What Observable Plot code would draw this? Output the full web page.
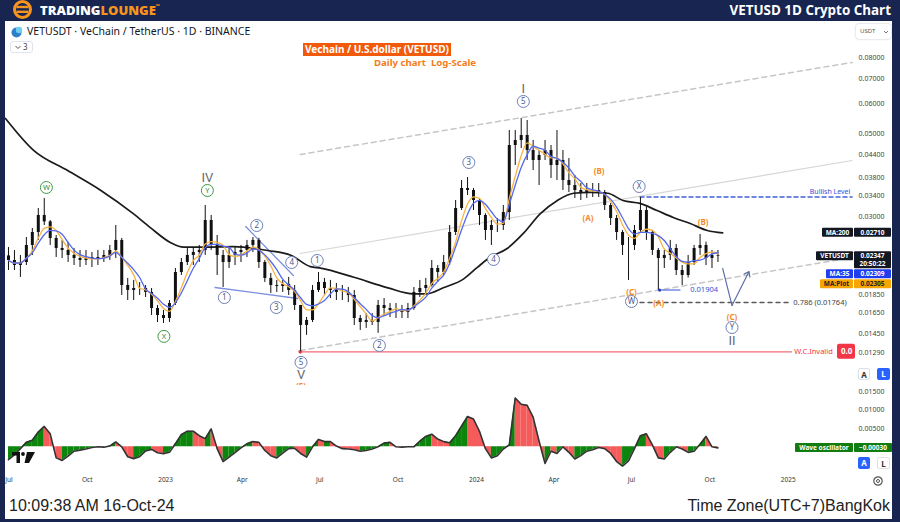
<!DOCTYPE html>
<html>
<head>
<meta charset="utf-8">
<script src="https://cdn.jsdelivr.net/npm/d3@7"></script>
<script src="https://cdn.jsdelivr.net/npm/@observablehq/plot@0.6"></script>
<style>
  html, body { margin:0; padding:0; }
  body { width:900px; height:522px; overflow:hidden; background:#172550; font-family:"Noto Sans", sans-serif; }
  #wrap { position:relative; width:900px; height:522px; }
  .a { position:absolute; white-space:nowrap; }
  .btn { position:absolute; width:12px; height:12px; box-sizing:border-box; border-radius:2px; font:700 8px/12px "Noto Sans",sans-serif; text-align:center; }
</style>
</head>
<body>
<div id="wrap">
  <div class="a" style="left:5px;top:21px;width:887px;height:498px;background:#fff"></div>
  <div class="a" id="mainHolder" style="left:0;top:21px;width:900px;height:364px"></div>
  <div class="a" id="oscHolder" style="left:0;top:385px;width:900px;height:105px"></div>

  <!-- frame -->
  <div class="a" style="left:0;top:0;width:5px;height:522px;background:#172550"></div>
  <div class="a" style="left:892px;top:0;width:8px;height:522px;background:#172550"></div>
  <div class="a" style="left:0;top:519px;width:900px;height:3px;background:#172550"></div>
  <div class="a" style="left:0;top:0;width:900px;height:21px;background:#172550"></div>

  <!-- header -->
  <svg class="a" style="left:10px;top:0" width="26" height="21">
    <circle cx="12.5" cy="9.5" r="8" fill="none" stroke="#f7941d" stroke-width="3"/>
    <rect x="6.5" y="5.8" width="12" height="2.4" fill="#f7941d"/>
    <rect x="6.5" y="10.6" width="12" height="2.4" fill="#f7941d"/>
  </svg>
  <div class="a" style="left:40px;top:0;font:800 13px/20px 'Open Sans',sans-serif;color:#fff;letter-spacing:0px">TRADING<span style="color:#f7941d">LOUNGE</span><span style="font-size:5px;vertical-align:top;line-height:12px;color:#f7941d">™</span></div>
  <div class="a" style="right:9px;top:0;font:700 13.4px/20px 'Open Sans',sans-serif;color:#fff">VETUSD 1D Crypto Chart</div>

  <!-- symbol line -->
  <svg class="a" style="left:10px;top:26px" width="15" height="12">
    <circle cx="6.5" cy="6.5" r="5" fill="#2f7fc8"/>
    <circle cx="9" cy="4" r="3.2" fill="#6fd0ee"/>
  </svg>
  <div class="a" style="left:27px;top:24px;font:400 10.5px/14px 'Noto Sans',sans-serif;color:#131722">VETUSDT · VeChain / TetherUS · 1D · BINANCE</div>
  <div class="a" style="left:10px;top:41px;width:23px;height:12px;border:1px solid #e0e3eb;border-radius:3px;box-sizing:border-box;font:8px/10px 'Noto Sans',sans-serif;color:#444">
    <svg width="8" height="10" style="position:absolute;left:3px;top:0"><path d="M1.5,4 L4,6.5 L6.5,4" fill="none" stroke="#555" stroke-width="1"/></svg>
    <span style="position:absolute;left:12px;top:0">3</span>
  </div>

  <!-- title boxes -->
  <div class="a" style="left:303px;top:43px;height:13px;padding:0 2px;background:#f15a0b;color:#fff;font:700 10px/13px 'Noto Sans',sans-serif">Vechain / U.S.dollar (VETUSD)</div>
  <div class="a" style="right:424px;top:56px;color:#f47b20;font:700 9.6px/13px 'Noto Sans',sans-serif">Daily chart&nbsp;&nbsp;Log-Scale</div>

  <!-- USDT box -->
  <div class="a" style="left:856px;top:24px;width:35px;height:15px;background:#fff;border-radius:3px;box-shadow:0 0 2px rgba(0,0,0,.3);font:6px/15px 'Noto Sans',sans-serif;color:#555;padding-left:4px;box-sizing:border-box">USDT
    <svg width="6" height="6" style="position:absolute;left:27px;top:5px"><path d="M1,2 L3,4 L5,2" fill="none" stroke="#555" stroke-width="0.8"/></svg>
  </div>

  <!-- scale buttons -->
  <div class="btn" style="left:858px;top:368px;background:#fff;border:1px solid #dde0e6;color:#333">A</div>
  <div class="btn" style="left:877px;top:368px;background:#2962ff;color:#fff;width:13px">L</div>
  <div class="btn" style="left:858px;top:457px;background:#2962ff;color:#fff">A</div>
  <div class="btn" style="left:877px;top:457px;background:#fff;border:1px solid #dde0e6;color:#333;width:13px">L</div>

  <!-- TradingView mark -->
  <svg class="a" style="left:12px;top:452px" width="26" height="12">
    <path d="M0,0 H8 V11 H4.5 V3.5 H0 Z" fill="#111"/>
    <circle cx="11" cy="2" r="1.9" fill="#111"/>
    <path d="M15,0 H23 L17,11 H12.5 Z" fill="#111"/>
  </svg>
  <!-- gear -->
  <svg class="a" style="left:872px;top:475px" width="12" height="12">
    <circle cx="6" cy="6" r="4.2" fill="none" stroke="#555" stroke-width="1.2"/>
    <circle cx="6" cy="6" r="1.5" fill="none" stroke="#555" stroke-width="1"/>
  </svg>

  <!-- footer -->
  <div class="a" style="left:9px;top:496px;font:16px/20px 'Liberation Sans Narrow','Liberation Sans',sans-serif;color:#222">10:09:38 AM 16-Oct-24</div>
  <div class="a" style="right:10px;top:496px;font:16px/20px 'Liberation Sans Narrow','Liberation Sans',sans-serif;color:#222">Time Zone(UTC+7)BangKok</div>
</div>

<script>
// ---------------- DATA ----------------
const firstWeek = "2022-06-27";           // weekly candles, Monday starts
const firstOpen = 0.0235;
const high = [
0.02476,0.02431,0.02357,0.02633,0.02784,0.03150,0.03351,0.02925,0.02666,0.02586,
0.02554,0.02461,0.02431,0.02431,0.02401,0.02431,0.02431,0.02507,0.02836,0.02617,
0.02045,0.02020,0.01995,0.01958,0.01922,0.01731,0.01678,0.01785,0.02175,0.02313,
0.02461,0.02476,0.02507,0.03209,0.03017,0.02666,0.02431,0.02461,0.02476,0.02507,
0.02586,0.02633,0.02620,0.02285,0.02109,0.02020,0.02020,0.02058,0.01958,0.01731,
0.01607,0.01958,0.02122,0.02045,0.02020,0.01983,0.01958,0.01934,0.01899,0.01627,
0.01647,0.01647,0.01785,0.01807,0.01752,0.01752,0.01731,0.01752,0.01934,0.02020,
0.02045,0.02285,0.02215,0.02357,0.02836,0.03309,0.03744,0.03814,0.03564,0.03350,
0.03050,0.02925,0.02961,0.03209,0.05098,0.05098,0.05490,0.05422,0.04793,0.04506,
0.04793,0.04647,0.05098,0.04506,0.04288,0.03861,0.03675,0.03675,0.03675,0.03675,
0.03520,0.03250,0.03017,0.02750,0.02633,0.02836,0.03371,0.03180,0.02750,0.02461,
0.02431,0.02586,0.02520,0.02215,0.02357,0.02507,0.02683,0.02560,0.02431,0.02431];
const low = [
0.02148,0.02148,0.02058,0.02215,0.02357,0.02586,0.02836,0.02507,0.02328,0.02313,
0.02257,0.02215,0.02188,0.02215,0.02188,0.02215,0.02257,0.02285,0.02313,0.01841,
0.01785,0.01785,0.01841,0.01818,0.01627,0.01558,0.01549,0.01558,0.01731,0.02083,
0.02215,0.02215,0.02257,0.02357,0.02431,0.02083,0.01934,0.02175,0.02215,0.02257,
0.02328,0.02401,0.02175,0.01995,0.01864,0.01876,0.01876,0.01841,0.01678,0.01303,
0.01439,0.01558,0.01876,0.01841,0.01807,0.01785,0.01785,0.01763,0.01530,0.01484,
0.01502,0.01530,0.01457,0.01627,0.01607,0.01597,0.01597,0.01597,0.01680,0.01818,
0.01864,0.01940,0.01995,0.02083,0.02215,0.02666,0.03111,0.03413,0.03111,0.02836,
0.02586,0.02507,0.02716,0.02750,0.02925,0.04107,0.04562,0.04236,0.03982,0.03630,
0.04236,0.03791,0.03744,0.03520,0.03477,0.03351,0.03309,0.03351,0.03371,0.03371,
0.03111,0.02836,0.02586,0.02357,0.02020,0.02431,0.02700,0.02586,0.02357,0.01899,
0.02175,0.02285,0.02083,0.01958,0.02050,0.02215,0.02357,0.02215,0.02175,0.02257];
const close = [
0.02285,0.02215,0.02257,0.02507,0.02716,0.03017,0.02900,0.02617,0.02461,0.02431,
0.02357,0.02313,0.02285,0.02313,0.02328,0.02313,0.02357,0.02431,0.02586,0.01958,
0.01899,0.01922,0.01922,0.01876,0.01699,0.01627,0.01597,0.01752,0.02122,0.02257,
0.02357,0.02401,0.02431,0.02925,0.02507,0.02357,0.02257,0.02357,0.02401,0.02431,
0.02507,0.02586,0.02257,0.02045,0.01958,0.01946,0.01971,0.01899,0.01731,0.01530,
0.01578,0.01899,0.01995,0.01922,0.01899,0.01876,0.01876,0.01841,0.01597,0.01558,
0.01578,0.01558,0.01731,0.01699,0.01678,0.01678,0.01657,0.01699,0.01876,0.01922,
0.01958,0.02175,0.02122,0.02257,0.02716,0.03150,0.03564,0.03520,0.03309,0.03017,
0.02750,0.02836,0.02836,0.03073,0.04647,0.04793,0.04943,0.04506,0.04236,0.04369,
0.04506,0.04107,0.04236,0.03744,0.03630,0.03520,0.03477,0.03520,0.03520,0.03477,
0.03209,0.02961,0.02716,0.02507,0.02507,0.02750,0.03111,0.02716,0.02431,0.02313,
0.02357,0.02461,0.02148,0.02083,0.02257,0.02461,0.02507,0.02313,0.02357,0.02347];
const waveOsc = [
-0.0035,-0.0022,-0.0005,0.0012,0.0018,0.0040,0.0055,0.0035,-0.0030,-0.0037,
-0.0025,-0.0012,-0.0009,-0.0006,-0.0002,0.0000,-0.0001,0.0002,0.0013,0.0000,
-0.0027,-0.0032,-0.0027,-0.0011,-0.0007,-0.0016,-0.0019,-0.0015,0.0008,0.0033,
0.0042,0.0042,0.0030,0.0022,0.0048,-0.0005,-0.0040,-0.0028,-0.0016,-0.0003,
0.0008,0.0014,0.0012,-0.0010,-0.0024,-0.0030,-0.0017,-0.0005,-0.0004,-0.0018,
-0.0028,0.0000,0.0020,0.0014,0.0014,0.0002,-0.0005,-0.0006,-0.0008,-0.0012,
-0.0010,-0.0006,0.0000,0.0010,0.0012,0.0000,-0.0001,0.0000,0.0000,0.0015,
0.0028,0.0034,0.0021,0.0014,0.0011,0.0030,0.0056,0.0082,0.0075,0.0042,
-0.0005,-0.0030,-0.0024,-0.0006,0.0005,0.0132,0.0115,0.0112,0.0080,0.0015,
-0.0045,-0.0012,-0.0018,0.0000,-0.0015,-0.0033,-0.0024,-0.0012,-0.0008,-0.0002,
-0.0005,-0.0018,-0.0040,-0.0052,-0.0038,-0.0005,0.0030,0.0035,0.0005,-0.0030,
-0.0033,-0.0015,0.0000,-0.0006,-0.0015,-0.0012,0.0007,0.0028,0.0000,-0.0003];

const ma200Dates = ["2022-06-27","2022-07-30","2022-09-08","2022-10-17","2022-11-24","2022-12-14","2023-01-07","2023-01-22","2023-02-11","2023-03-22","2023-05-01","2023-05-28","2023-06-20","2023-07-02","2023-08-10","2023-09-19","2023-10-19","2023-11-04","2023-11-23","2023-12-17","2024-01-02","2024-01-17","2024-02-06","2024-02-25","2024-03-16","2024-04-05","2024-04-24","2024-05-14","2024-06-03","2024-06-21","2024-07-11","2024-07-31","2024-08-19","2024-09-08","2024-09-28","2024-10-16"];
const ma200Values = [0.0549,0.0451,0.0398,0.0352,0.0305,0.0280,0.0255,0.0248,0.0248,0.0249,0.0243,0.0236,0.0220,0.0218,0.0206,0.0193,0.0186,0.0186,0.0193,0.0204,0.0219,0.0233,0.0246,0.0270,0.0305,0.0331,0.0346,0.0348,0.0346,0.0331,0.0325,0.0311,0.0298,0.0287,0.0275,0.0271];

const priceTicks = [0.08,0.07,0.06,0.05,0.044,0.038,0.034,0.03,0.0185,0.0165,0.0145,0.0129];
const oscTicks = [0.015,0.01,0.005];
const timeTicks = ["2022-07-01","2022-10-01","2023-01-01","2023-04-01","2023-07-01","2023-10-01","2024-01-01","2024-04-01","2024-07-01","2024-10-01","2025-01-01"];
const timeLabels = ["Jul","Oct","2023","Apr","Jul","Oct","2024","Apr","Jul","Oct","2025"];
const xDomainDates = ["2022-06-27","2025-03-21"];

// channel and drawn lines
const chanDates = ["2023-06-08","2025-03-17"];
const chanUpper = [0.04396,0.0776];
const chanMid = [0.02386,0.04236];
const chanLower = [0.01311,0.02328];
const triLowDates = ["2023-02-28","2023-06-05"], triLowPrices = [0.01934,0.01807];
const triHighDates = ["2023-04-05","2023-05-31"], triHighPrices = [0.02818,0.02083];
const bullishLevel = 0.0338, bullishDates = ["2024-07-11","2025-03-17"];
const fibLevel = 0.01764, fibDates = ["2024-07-11","2025-01-01"];
const invalidLevel = 0.0130, invalidDates = ["2023-06-08","2025-01-05"];
const lowMark = 0.01904, lowMarkDates = ["2024-08-03","2024-08-27"];
const projDates = ["2024-10-16","2024-10-27","2024-11-16"], projPrices = [0.02175,0.01731,0.02135];

// wave labels
const blueText = ["2","4","1","3","5","1","2","3","4","5","X","W","Y"];
const blueDates = ["2023-04-18","2023-05-29","2023-03-11","2023-05-11","2023-06-09","2023-06-28","2023-09-09","2023-12-23","2024-01-21","2024-02-25","2024-07-10","2024-07-01","2024-10-27"];
const bluePrices = [0.02836,0.02257,0.01818,0.01709,0.01218,0.02285,0.01352,0.04184,0.02299,0.06098,0.03608,0.01774,0.01511];
const greenText = ["W","Y","X"];
const greenDates = ["2022-08-14","2023-02-19","2022-12-30"];
const greenPrices = [0.03586,0.0352,0.0143];
const romanText = ["IV","V","I","II"];
const romanDates = ["2023-02-19","2023-06-09","2024-02-25","2024-10-27"];
const romanPrices = [0.0381,0.01131,0.06607,0.01394];
const orangeText = ["(B)","(A)","(B)","(C)","(A)","(C)","(5)"];
const orangeDates = ["2024-05-24","2024-05-11","2024-09-23","2024-07-01","2024-08-02","2024-10-27","2023-06-09"];
const orangePrices = [0.03958,0.02961,0.02889,0.01880,0.01752,0.01607,0.01050];

// right-hand price tags
const tagNames = ["MA:200","VETUSDT","MA:35","MA:Plot"];
const tagValues = [0.02710,0.02347,0.02309,0.02305];
const tagSub = ["","20:50:22","",""];
const tagFill = ["#131722","#131722","#1f3df0","#f7a600"];
const tagInk = ["#fff","#fff","#fff","#222"];
const tagNameW = [31,37,27,33];
const oscTagName = "Wave oscillator", oscTagValue = -0.00030;

// ---------------- BUILD ----------------
const D = s => new Date(s + "T00:00:00Z");
const start = D(firstWeek);
const dates = close.map((_, i) => d3.utcHour.offset(start, i * 168 + 84));
const candles = close.map((c, i) => ({date: dates[i], open: i ? close[i-1] : firstOpen, high: high[i], low: low[i], close: c}));
const pts = (ds, ps) => ds.map((d, i) => ({d: D(d), p: ps[i]}));
const lvl = (ds, v) => ds.map(d => ({d: D(d), p: v}));
const xDomain = xDomainDates.map(D);
const ma200 = pts(ma200Dates, ma200Values);
const fmt5 = d3.format(".5f");
const font = "'Noto Sans', sans-serif";

const mainPlot = Plot.plot({
  width: 900, height: 364,
  marginLeft: 5, marginRight: 45, marginTop: 0, marginBottom: 0,
  style: {background: "transparent", fontFamily: font, overflow: "hidden"},
  x: {type: "utc", domain: xDomain, axis: null},
  y: {type: "log", domain: [0.010561, 0.09991]},
  marks: [
    Plot.line(pts(chanDates, chanUpper), {x: "d", y: "p", stroke: "#c6c6c6", strokeDasharray: "5,4"}),
    Plot.line(pts(chanDates, chanMid), {x: "d", y: "p", stroke: "#d6d6d6", strokeWidth: 1.2}),
    Plot.line(pts(chanDates, chanLower), {x: "d", y: "p", stroke: "#c6c6c6", strokeDasharray: "5,4"}),
    Plot.line(lvl(bullishDates, bullishLevel), {x: "d", y: "p", stroke: "#4262d8", strokeDasharray: "4,3"}),
    Plot.line(lvl(fibDates, fibLevel), {x: "d", y: "p", stroke: "#5a5a5a", strokeDasharray: "4,4"}),
    Plot.line(lvl(invalidDates, invalidLevel), {x: "d", y: "p", stroke: "#f26b78", strokeWidth: 1.1}),
    Plot.dot(lvl(invalidDates.slice(0, 1), invalidLevel), {x: "d", y: "p", r: 1.8, fill: "#e8343f"}),
    Plot.line(pts(triLowDates, triLowPrices), {x: "d", y: "p", stroke: "#7d8fe0", strokeWidth: 1.3}),
    Plot.line(pts(triHighDates, triHighPrices), {x: "d", y: "p", stroke: "#7d8fe0", strokeWidth: 1.3}),
    Plot.line(ma200, {x: "d", y: "p", stroke: "#1b1b1b", strokeWidth: 1.7, curve: "monotone-x"}),
    Plot.ruleX(candles, {x: "date", y1: "low", y2: "high", stroke: "#111", strokeWidth: 1}),
    Plot.ruleX(candles, {x: "date", y1: "open", y2: "close", stroke: "#111", strokeWidth: 3}),
    Plot.line(candles, Plot.windowY({k: 4, anchor: "end", reduce: "mean", strict: false}, {x: "date", y: "close", stroke: "#f6b443", strokeWidth: 1.3, curve: "monotone-x"})),
    Plot.line(candles, Plot.windowY({k: 5, anchor: "end", reduce: "mean", strict: false}, {x: "date", y: "close", stroke: "#5468f0", strokeWidth: 1.3, curve: "monotone-x"})),
    // projection
    Plot.line(pts(projDates.slice(0, 2), projPrices.slice(0, 2)), {x: "d", y: "p", stroke: "#5d6ea8", strokeWidth: 1.2}),
    Plot.arrow([0], {x1: () => D(projDates[1]), y1: () => projPrices[1], x2: () => D(projDates[2]), y2: () => projPrices[2], stroke: "#5d6ea8", strokeWidth: 1.2, headLength: 7, headAngle: 70}),
    // 0.01904 marker
    Plot.line(lvl(lowMarkDates, lowMark), {x: "d", y: "p", stroke: "#3350d8", strokeWidth: 1}),
    Plot.dot(lvl(lowMarkDates.slice(0, 1), lowMark), {x: "d", y: "p", r: 1.6, fill: "#2340c0"}),
    Plot.text([lowMark], {x: () => D("2024-09-08"), y: d => d, text: d => d.toFixed(5), textAnchor: "start", fill: "#3350d8", fontSize: 7.5}),
    // level texts
    Plot.text([bullishLevel], {x: () => D("2025-03-15"), y: d => d, text: () => "Bullish Level", textAnchor: "end", dy: -5, fill: "#3350d8", fontSize: 7}),
    Plot.text([fibLevel], {x: () => D("2025-01-07"), y: d => d, text: d => "0.786 (" + d.toFixed(5) + ")", textAnchor: "start", fill: "#444", fontSize: 7.5}),
    Plot.text([invalidLevel], {x: () => D("2025-01-08"), y: d => d, text: () => "W.C.Invalid", textAnchor: "start", fill: "#f23645", fontSize: 7.5}),
    // wave labels
    Plot.dot(blueText, {x: (d, i) => D(blueDates[i]), y: (d, i) => bluePrices[i], r: 6, fill: "white", stroke: "#6f7fb5", strokeWidth: 1}),
    Plot.text(blueText, {x: (d, i) => D(blueDates[i]), y: (d, i) => bluePrices[i], text: d => d, fill: "#4b5a8e", fontSize: 8}),
    Plot.dot(greenText, {x: (d, i) => D(greenDates[i]), y: (d, i) => greenPrices[i], r: 6, fill: "white", stroke: "#3f9a46", strokeWidth: 1}),
    Plot.text(greenText, {x: (d, i) => D(greenDates[i]), y: (d, i) => greenPrices[i], text: d => d, fill: "#2f8a37", fontSize: 7.5}),
    Plot.text(romanText, {x: (d, i) => D(romanDates[i]), y: (d, i) => romanPrices[i], text: d => d, fill: "#6a6a6a", fontSize: 13, fontFamily: "Roboto, sans-serif", fontWeight: 400}),
    Plot.text(orangeText, {x: (d, i) => D(orangeDates[i]), y: (d, i) => orangePrices[i], text: d => d, fill: "#f58a1f", fontSize: 8, fontWeight: 700}),
    Plot.axisY(priceTicks, {anchor: "right", tickSize: 0, tickPadding: 3, tickFormat: fmt5, fontSize: 7, color: "#444", label: null})
  ]
});
document.getElementById("mainHolder").appendChild(mainPlot);

// price tags (positioned with the plot's y scale, stacked like TradingView)
const ySc = mainPlot.scale("y");
const tg = d3.select(mainPlot).append("g").attr("font-family", font).attr("font-weight", 700).attr("font-size", "6.5px").attr("text-anchor", "middle");
let prevBottom = -Infinity;
tagNames.forEach((name, i) => {
  const h = tagSub[i] ? 17 : 9;
  const top = Math.max(ySc.apply(tagValues[i]) - 4.5, prevBottom + 1);
  prevBottom = top + h;
  tg.append("rect").attr("x", 853 - tagNameW[i]).attr("y", top).attr("width", tagNameW[i]).attr("height", 9).attr("rx", 1).attr("fill", tagFill[i]);
  tg.append("text").attr("x", 853 - tagNameW[i] / 2).attr("y", top + 6.8).attr("fill", tagInk[i]).text(name);
  tg.append("rect").attr("x", 854).attr("y", top).attr("width", 37).attr("height", h).attr("rx", 1).attr("fill", tagFill[i]);
  tg.append("text").attr("x", 872.5).attr("y", top + 6.8).attr("fill", tagInk[i]).text(fmt5(tagValues[i]));
  if (tagSub[i]) tg.append("text").attr("x", 872.5).attr("y", top + 14.8).attr("fill", tagInk[i]).text(tagSub[i]);
});
const yInv = ySc.apply(invalidLevel);
tg.append("rect").attr("x", 837).attr("y", yInv - 7.5).attr("width", 18).attr("height", 15).attr("rx", 2).attr("fill", "#f23645");
tg.append("text").attr("x", 841).attr("y", yInv + 3).attr("text-anchor", "start").attr("font-size", "8px").attr("fill", "#fff").text("0.0");

// ---------------- OSCILLATOR ----------------
const oscRows = waveOsc.map((v, i) => ({date: dates[i], v}));
const segs = [];
for (let i = 0; i < waveOsc.length - 1; i++) {
  const col = waveOsc[i + 1] >= waveOsc[i] ? "#0b850b" : "#f55b5b";
  segs.push({s: i, date: dates[i], v: waveOsc[i], col}, {s: i, date: dates[i + 1], v: waveOsc[i + 1], col});
}
const labelOf = new Map(timeTicks.map((t, i) => [+D(t), timeLabels[i]]));
const oscPlot = Plot.plot({
  width: 900, height: 105,
  marginLeft: 5, marginRight: 45, marginTop: 0, marginBottom: 18,
  style: {background: "transparent", fontFamily: font, overflow: "visible"},
  x: {type: "utc", domain: xDomain},
  y: {domain: [-0.00695, 0.01657]},
  color: {type: "identity"},
  marks: [
    Plot.areaY(segs, {x: "date", y1: 0, y2: "v", z: "s", fill: "col"}),
    Plot.line(oscRows, {x: "date", y: "v", stroke: "#333", strokeWidth: 1.6}),
    Plot.axisY(oscTicks, {anchor: "right", tickSize: 0, tickPadding: 3, tickFormat: fmt5, fontSize: 7, color: "#444", label: null}),
    Plot.axisX(timeTicks.map(D), {anchor: "bottom", tickSize: 0, tickPadding: 5, tickFormat: d => labelOf.get(+d), fontSize: 6.5, color: "#333", label: null})
  ]
});
document.getElementById("oscHolder").appendChild(oscPlot);
const oSc = oscPlot.scale("y");
const og = d3.select(oscPlot).append("g").attr("font-family", font).attr("font-weight", 700).attr("font-size", "6.5px").attr("text-anchor", "middle");
const oy = oSc.apply(oscTagValue) - 4.5;
og.append("rect").attr("x", 795).attr("y", oy).attr("width", 58).attr("height", 9).attr("rx", 1).attr("fill", "#117d11");
og.append("text").attr("x", 824).attr("y", oy + 6.8).attr("fill", "#fff").text(oscTagName);
og.append("rect").attr("x", 854).attr("y", oy).attr("width", 38).attr("height", 9).attr("rx", 1).attr("fill", "#117d11");
og.append("text").attr("x", 873).attr("y", oy + 6.8).attr("fill", "#fff").text("\u2212" + fmt5(Math.abs(oscTagValue)));
</script>
</body>
</html>
